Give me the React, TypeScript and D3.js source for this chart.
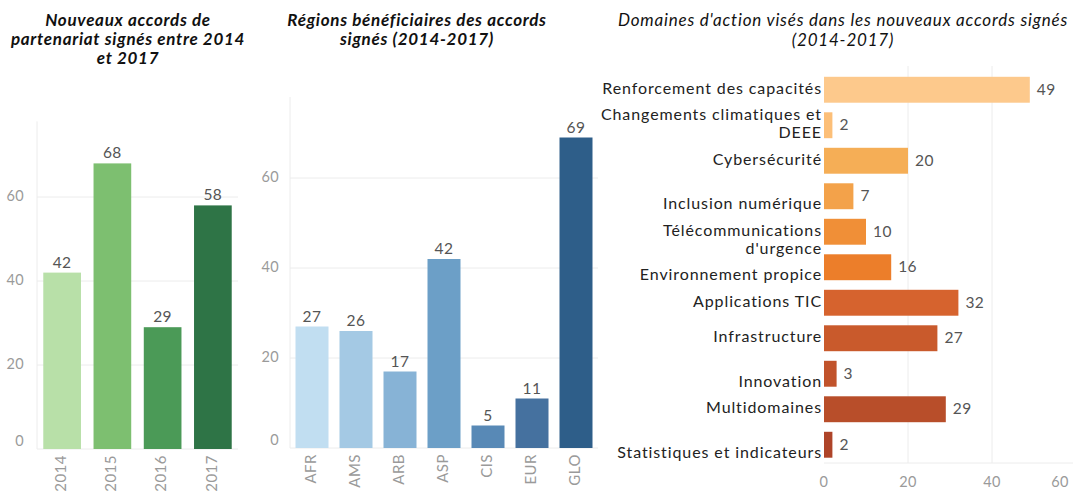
import React from "react";
import * as d3 from "d3";

// données
const years = ["2014", "2015", "2016", "2017"];
const yearValues = [42, 68, 29, 58];
const yearColors = ["#b8e0a8", "#7dbf70", "#4b9a57", "#2e7446"];

const regions = ["AFR", "AMS", "ARB", "ASP", "CIS", "EUR", "GLO"];
const regionValues = [27, 26, 17, 42, 5, 11, 69];
const regionColors = ["#c1def1", "#a4c9e4", "#87b3d6", "#6c9fc7", "#5889b6", "#45719f", "#2e5e89"];

const domains = [
  "Renforcement des capacités",
  "Changements climatiques et\nDEEE",
  "Cybersécurité",
  "\nInclusion numérique",
  "\nTélécommunications\nd'urgence",
  "\nEnvironnement propice",
  "Applications TIC",
  "Infrastructure",
  "\nInnovation",
  "Multidomaines",
  "\nStatistiques et indicateurs",
];
const domainValues = [49, 2, 20, 7, 10, 16, 32, 27, 3, 29, 2];
const domainColors = [
  "#fdc98c", "#fcbf78", "#f5ae56", "#f3a24a", "#f08f37", "#ec7e2a",
  "#d6632e", "#c95a2c", "#c1532b", "#b84e2a", "#ae4429",
];

const yTicks = [0, 20, 40, 60];
const xTicks = [0, 20, 40, 60];

const FONT = "Lato, 'Open Sans', sans-serif";
const TICK = "#9a9a9a";
const VAL = "#555";
const GRID = "#ececec";

function VerticalBars({ cats, values, colors, x0, x1, base, top, title, titleX, axisX }: any) {
  const x = d3.scaleBand().domain(cats).range([x0, x1]).paddingInner(0.25).paddingOuter(0.125);
  const y = d3.scaleLinear().domain([0, 78]).range([base, top]);
  return (
    <g>
      {title.map((t: string, i: number) => (
        <text key={t} x={titleX} y={22 + i * 19} textAnchor="middle" dominantBaseline="middle"
          fontStyle="italic" fontWeight="bold" fontSize={17} letterSpacing={0.7} fill="#111">{t}</text>
      ))}
      <line x1={x0} x2={x0} y1={y.range()[1]} y2={base} stroke={GRID} />
      {yTicks.map((t) => (
        <g key={t}>
          <line x1={x0} x2={x1} y1={y(t)} y2={y(t)} stroke={GRID} />
          <text x={axisX} y={Math.min(y(t), base - 7)} textAnchor="end" dominantBaseline="middle"
            fontSize={14.5} letterSpacing={0.4} fill={TICK}>{t}</text>
        </g>
      ))}
      {cats.map((c: string, i: number) => (
        <g key={c}>
          <rect x={x(c)} y={y(values[i])} width={x.bandwidth()} height={base - y(values[i])}
            fill={colors[i]} />
          <text x={x(c)! + x.bandwidth() / 2} y={y(values[i]) - 5} textAnchor="middle"
            fontSize={15.5} letterSpacing={0.4} fill={VAL}>{values[i]}</text>
          <text transform={`translate(${x(c)! + x.bandwidth() / 2},${base + 6}) rotate(-90)`}
            textAnchor="end" dominantBaseline="middle" fontSize={15} letterSpacing={0.5}
            fill={TICK}>{c}</text>
        </g>
      ))}
    </g>
  );
}

function HorizontalBars() {
  const x = d3.scaleLinear().domain([0, 60]).range([824, 1076]);
  const y = d3.scaleBand().domain(domains).range([72, 462.5]).paddingInner(0.27).paddingOuter(0.135);
  const base = 463;
  return (
    <g>
      {["Domaines d'action visés dans les nouveaux accords signés", "(2014-2017)"].map((t, i) => (
        <text key={t} x={843} y={22 + i * 20} textAnchor="middle" dominantBaseline="middle"
          fontStyle="italic" fontSize={17} letterSpacing={0.8} fill="#111">{t}</text>
      ))}
      {xTicks.slice(1).map((t) => (
        <line key={t} x1={x(t)} x2={x(t)} y1={66} y2={base} stroke={GRID} />
      ))}
      <line x1={x(0)} x2={1073} y1={base} y2={base} stroke={GRID} />
      {xTicks.map((t) => (
        <text key={t} x={Math.min(x(t), 1060)} y={483} textAnchor="middle" dominantBaseline="middle"
          fontSize={14.5} letterSpacing={0.4} fill={TICK}>{t}</text>
      ))}
      {domains.map((d, i) => {
        const cy = y(d)! + y.bandwidth() / 2;
        const lines = d.split("\n");
        return (
          <g key={d}>
            <rect x={x(0)} y={y(d)} width={x(domainValues[i]) - x(0)} height={y.bandwidth()}
              fill={domainColors[i]} />
            <text x={x(domainValues[i]) + 7} y={cy + 1} dominantBaseline="middle"
              fontSize={15.5} letterSpacing={0.4} fill={VAL}>{domainValues[i]}</text>
            {lines.map((l, j) => (
              <text key={j} x={822} y={cy + (j - (lines.length - 1) / 2) * 18}
                textAnchor="end" dominantBaseline="middle" fontSize={16} letterSpacing={0.9}
                fill="#222">{l}</text>
            ))}
          </g>
        );
      })}
    </g>
  );
}

export default function App() {
  return (
    <svg width={1073} height={491} fontFamily={FONT}
      style={{ position: "absolute", left: 0, top: 0, background: "#fff" }}>
      <VerticalBars cats={years} values={yearValues} colors={yearColors} x0={37} x1={238}
        base={449} top={449 - 78 * 4.2} titleX={128} axisX={24}
        title={["Nouveaux accords de", "partenariat signés entre 2014", "et 2017"]} />
      <VerticalBars cats={regions} values={regionValues} colors={regionColors} x0={290} x1={598}
        base={448} top={448 - 78 * 4.5} titleX={417} axisX={279}
        title={["Régions bénéficiaires des accords", "signés (2014-2017)"]} />
      <HorizontalBars />
    </svg>
  );
}
